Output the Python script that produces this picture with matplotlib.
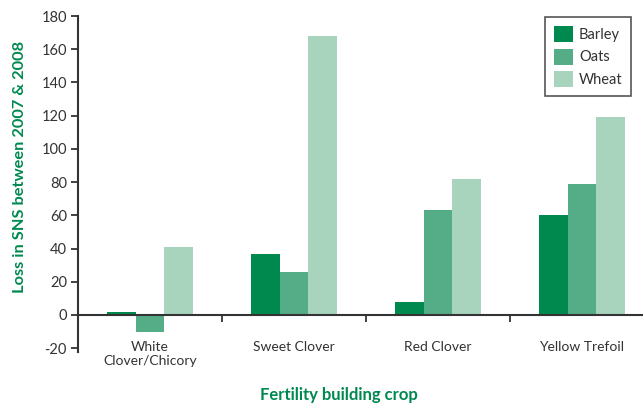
import numpy as np
import matplotlib
matplotlib.use('Agg')
import matplotlib.pyplot as plt

plt.rcParams['font.family'] = ['Lato', 'DejaVu Sans']
plt.rcParams['axes.unicode_minus'] = False

crops = ['White\nClover/Chicory', 'Sweet Clover', 'Red Clover', 'Yellow Trefoil']
barley = [2, 37, 8, 60]
oats = [-10, 26, 63, 79]
wheat = [41, 168, 82, 119]
series = ['Barley', 'Oats', 'Wheat']
colors = ['#00894f', '#55ad88', '#a8d3bd']

fig = plt.figure(figsize=(6.43, 4.05), dpi=100)
ax = fig.add_axes([78 / 643, 1 - 351.5 / 405, 1 - 78 / 643, 335.5 / 405])

x = np.arange(len(crops))
w = 0.2
for i, (vals, name) in enumerate(zip([barley, oats, wheat], series)):
    ax.bar(x + (i - 1) * w, vals, width=w, color=colors[i], label=name, zorder=2)

ax.set_ylim(-22, 180)
ax.set_xlim(-0.5, 3.5 - 11 / 144)
ax.set_yticks(range(-20, 181, 20))
ax.tick_params(axis='y', direction='out', length=5, width=1.3, colors='#333333',
               labelsize=10.5, pad=3)
for s in ['top', 'right']:
    ax.spines[s].set_visible(False)
ax.spines['left'].set_linewidth(1.5)
ax.spines['left'].set_color('#333333')
ax.spines['bottom'].set_position(('data', 0))
ax.spines['bottom'].set_linewidth(1.5)
ax.spines['bottom'].set_color('#333333')
ax.spines['bottom'].set_zorder(3)

ax.set_xticks([0.5, 1.5, 2.5])
ax.set_xticklabels([])
ax.tick_params(axis='x', direction='out', length=5, width=1.3, colors='#333333')

for xi, name in zip(x, crops):
    ax.text(xi, 0.032, name, transform=ax.get_xaxis_transform(), ha='center',
            va='top', multialignment='center', fontsize=10, color='#333333',
            linespacing=1.25)

leg = ax.legend(loc='upper right', bbox_to_anchor=(0.982, 1.0), fontsize=10.5,
                handlelength=1.3, handleheight=1.3, handletextpad=0.4,
                fancybox=False, framealpha=1, borderpad=0.6, labelspacing=0.45,
                borderaxespad=0.1)
leg.get_frame().set_edgecolor('#555555')
leg.get_frame().set_linewidth(1.2)
for t in leg.get_texts():
    t.set_color('#333333')

fig.text(339 / 643, 1 - 395 / 405, 'Fertility building crop', ha='center', va='center',
         fontsize=12, fontweight='bold', color='#00894f')
fig.text(20 / 643, 1 - 167 / 405, 'Loss in SNS between 2007 & 2008', ha='center',
         va='center', rotation=90, fontsize=11.8, fontweight='bold', color='#00894f')

fig.savefig('out.png', dpi=100)
